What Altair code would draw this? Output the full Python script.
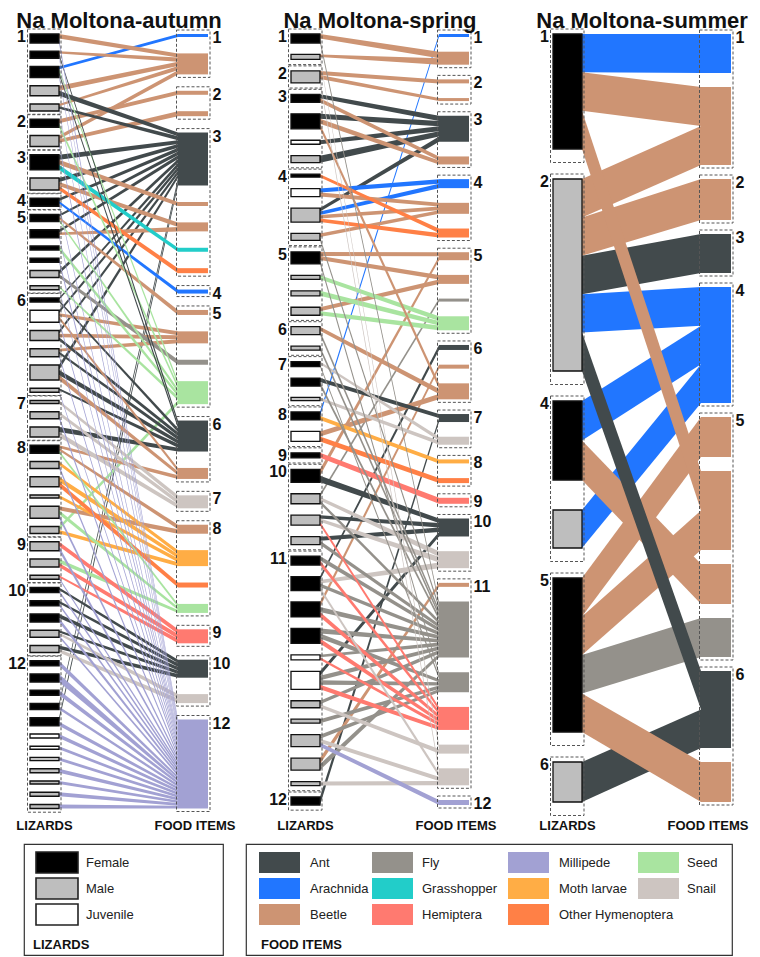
import altair as alt
import pandas as pd

# ---------------- categories & colours ----------------
FOOD_TYPES = ["Ant", "Arachnida", "Beetle", "Fly", "Grasshopper", "Hemiptera",
              "Millipede", "Moth larvae", "Other Hymenoptera", "Seed", "Snail"]
FOOD_COLORS = ["#424a4c", "#2176ff", "#cd9473", "#94918b", "#22cdc9", "#ff7a70",
               "#a2a1d3", "#ffad45", "#ff8046", "#a9e4a0", "#cdc5c1"]
SEXES = ["Female", "Male", "Juvenile"]
SEX_COLORS = ["#000000", "#bebebe", "#ffffff"]
SEX_NAME = {"F": "Female", "M": "Male", "J": "Juvenile"}

# ---------------- Na Moltona - autumn ----------------
aut_liz_module = [1, 1, 1, 1, 1, 2, 2, 3, 3, 4, 5, 5, 5, 5, 5, 5, 6, 6, 6, 6, 6, 6,
                  7, 7, 7, 8, 8, 8, 8, 8, 8, 9, 9, 9, 10, 10, 10, 10, 10,
                  12, 12, 12, 12, 12, 12, 12, 12, 12, 12, 12, 12]
aut_liz_sex = ("F F F M M F M F M F F F F F M M F J M M M M M M M F M M M M M "
               "M M M F F F M M F F F F F J J J M M M M").split()
aut_liz_size = [9, 7, 11, 10, 7, 8, 11, 15, 12, 8, 7, 8, 4, 4, 7, 4, 4, 12, 10, 8, 15, 4,
                3, 7, 10, 8, 7, 10, 3, 12, 7, 9, 8, 4, 5, 5, 8, 7, 7,
                5, 8, 5, 6, 8, 4, 3, 3, 4, 3, 4, 4]
aut_food_module = [1, 1, 2, 2, 3, 3, 3, 3, 3, 4, 5, 5, 5, 5, 6, 6, 7, 8, 8, 8, 8, 9, 10, 10, 12]
aut_food_type = ["Arachnida", "Beetle", "Beetle", "Beetle", "Ant", "Beetle", "Beetle",
                 "Grasshopper", "Other Hymenoptera", "Arachnida", "Beetle", "Beetle", "Fly",
                 "Seed", "Ant", "Beetle", "Snail", "Beetle", "Moth larvae",
                 "Other Hymenoptera", "Seed", "Hemiptera", "Ant", "Snail", "Millipede"]
aut_food_size = [3, 21, 4, 5, 53, 4, 9, 4, 5, 4, 5, 12, 5, 23, 31, 11, 13, 9, 16, 5, 9,
                 14, 18, 9, 89]
aut_diet = [[2, 25], [2, 15, 25], [1, 14, 15, 25], [2, 5], [2, 5, 25], [3, 14], [2, 4, 25],
            [5, 6, 8], [5, 7, 9], [5, 10, 25], [5, 11, 14], [5, 7, 25], [14], [25], [5, 13],
            [14, 25], [5, 15], [5, 12, 16, 25], [5, 12, 15], [12, 15, 25], [5, 15, 16],
            [15, 25], [17], [17, 25], [15, 17], [16, 18, 21], [19, 25], [19, 20], [19],
            [18, 21, 25], [14, 19], [22, 25], [21, 22], [22, 25], [23, 25], [23, 25],
            [23, 25], [23, 24, 25], [23, 24], [25], [25], [25], [5, 25], [5, 25],
            [25], [25], [25], [25], [25], [25], [25]]

# ---------------- Na Moltona - spring ----------------
spr_liz_module = [1, 1, 2, 3, 3, 3, 3, 4, 4, 4, 4, 5, 5, 5, 5, 6, 6, 7, 7, 7, 8, 8, 9,
                  10, 10, 10, 10, 11, 11, 11, 11, 11, 11, 11, 11, 11, 11, 11, 12]
spr_liz_sex = ("F M M F F J M F J M M F M M M M M F F J F J F F M M M "
               "F F F F J J M M M M M F").split()
spr_liz_size = [9, 5, 12, 8, 15, 4, 7, 3, 8, 14, 7, 12, 4, 5, 8, 8, 4, 5, 8, 3, 8, 10, 5,
                13, 10, 10, 8, 9, 14, 15, 15, 5, 18, 7, 4, 12, 12, 4, 8]
spr_food_module = [1, 1, 2, 2, 3, 3, 4, 4, 4, 5, 5, 5, 5, 6, 6, 6, 7, 7, 8, 8, 9, 10, 10,
                   11, 11, 11, 11, 11, 11, 12]
spr_food_type = ["Arachnida", "Beetle", "Beetle", "Beetle", "Ant", "Beetle", "Arachnida",
                 "Beetle", "Other Hymenoptera", "Beetle", "Beetle", "Fly", "Seed", "Ant",
                 "Beetle", "Beetle", "Ant", "Snail", "Moth larvae", "Other Hymenoptera",
                 "Hemiptera", "Ant", "Snail", "Beetle", "Fly", "Fly", "Hemiptera", "Snail",
                 "Snail", "Millipede"]
spr_food_size = [3, 13, 4, 3, 26, 8, 9, 11, 9, 8, 9, 3, 14, 5, 4, 16, 8, 8, 4, 5, 6, 18, 17,
                 4, 56, 20, 23, 9, 17, 5]
spr_diet = [[2, 25], [2, 28], [3, 4, 29], [5, 6], [5, 6, 16], [5], [5], [9], [7, 8],
            [5, 7, 8, 9], [8, 25], [10, 11, 26], [13], [13], [11, 13], [16, 25], [25],
            [18, 26], [17, 25], [18], [1, 19], [16, 20], [21], [10, 22], [12, 23, 25],
            [22, 23, 27], [22, 25], [25, 27], [14, 23, 25, 29], [15, 25, 27], [25, 26, 27],
            [25, 27], [22, 25, 26, 27], [25, 28], [26], [26, 29, 30], [24, 25], [29], [17]]

# ---------------- Na Moltona - summer ----------------
sum_liz_module = [1, 2, 4, 4, 5, 6]
sum_liz_sex = ["F", "M", "F", "M", "F", "M"]
sum_liz_size = [115, 192, 79, 38, 154, 40]
sum_food_module = [1, 1, 2, 3, 4, 5, 5, 5, 5, 6, 6]
sum_food_type = ["Arachnida", "Beetle", "Beetle", "Ant", "Arachnida", "Beetle", "Beetle",
                 "Beetle", "Fly", "Ant", "Beetle"]
sum_food_size = [39, 78, 41, 39, 116, 40, 79, 40, 39, 77, 40]
sum_diet = [[1, 2, 7], [2, 3, 4, 5, 10], [5, 8], [5], [6, 7, 9, 11], [10]]

# ---------------- layout constants ----------------
H = 827
TOP = 26
LX0, LX1 = 16, 45
FX0, FX1 = 164, 194
FONT = "'Liberation Sans', Arial, Helvetica, sans-serif"

FILL = alt.Scale(domain=FOOD_TYPES + SEXES, range=FOOD_COLORS + SEX_COLORS)


def stack(sizes, top, end):
    gap = (end - top - sum(sizes)) / (len(sizes) - 1)
    out, y = [], top
    for s in sizes:
        out.append(y)
        y += s + gap
    return out, gap


def module_boxes(mods, starts, sizes, x0, x1, pt, pb):
    rows = []
    for m in sorted(set(mods), key=mods.index):
        idx = [i for i, v in enumerate(mods) if v == m]
        rows.append(dict(module=str(m), x=x0, x2=x1,
                         y=starts[idx[0]] - pt,
                         y2=starts[idx[-1]] + sizes[idx[-1]] + pb))
    return pd.DataFrame(rows)


def build_panel(title, liz_mod, liz_sex, liz_size, food_mod, food_type, food_size,
                diet, y_end, width, food_label_x):
    ly, lgap = stack(liz_size, TOP, y_end)
    fy, fgap = stack(food_size, TOP, y_end)
    links = [(i, j - 1) for i, foods in enumerate(diet) for j in foods]

    lseg, fseg = {}, {}
    for i in range(len(liz_size)):
        fl = sorted([j for a, j in links if a == i], key=lambda j: fy[j])
        sh = liz_size[i] / len(fl)
        for k, j in enumerate(fl):
            lseg[(i, j)] = (ly[i] + k * sh, ly[i] + (k + 1) * sh)
    for j in range(len(food_size)):
        ll = sorted([a for a, b in links if b == j], key=lambda a: ly[a])
        sh = food_size[j] / len(ll)
        for k, i in enumerate(ll):
            fseg[(i, j)] = (fy[j] + k * sh, fy[j] + (k + 1) * sh)

    rows = []
    order = sorted(range(len(links)), key=lambda n: (-links[n][0], n))
    for rank, n in enumerate(order):
        i, j = links[n]
        rows.append(dict(link=f"{rank:04d}", x=LX1, y=lseg[(i, j)][0], y2=lseg[(i, j)][1],
                         cat=food_type[j]))
        rows.append(dict(link=f"{rank:04d}", x=FX0, y=fseg[(i, j)][0], y2=fseg[(i, j)][1],
                         cat=food_type[j]))
    link_df = pd.DataFrame(rows)

    liz_df = pd.DataFrame(dict(x=LX0, x2=LX1, y=ly,
                               y2=[a + b for a, b in zip(ly, liz_size)],
                               cat=[SEX_NAME[s] for s in liz_sex]))
    food_df = pd.DataFrame(dict(x=FX0, x2=FX1, y=fy,
                                y2=[a + b for a, b in zip(fy, food_size)],
                                cat=food_type))
    lbox = module_boxes(liz_mod, ly, liz_size, LX0 - 2.5, LX1 + 2, 5, max(3.5, lgap * 0.45))
    fbox = module_boxes(food_mod, fy, food_size, FX0 - 1.5, FX1 + 2, 4, 3)
    lab_l = pd.DataFrame(dict(x=lbox.x - 1.5, y=lbox.y + 8, t=lbox.module))
    lab_f = pd.DataFrame(dict(x=fbox.x2 + 2.5, y=fbox.y + 8, t=fbox.module))
    ttl = pd.DataFrame(dict(x=[(LX0 + FX1) / 2], y=[3], t=[title]))
    bottom = pd.DataFrame(dict(x=[(LX0 + LX1) / 2, food_label_x], y=[818, 818],
                               t=["LIZARDS", "FOOD ITEMS"]))

    X = alt.X("x:Q", scale=alt.Scale(domain=[0, width]), axis=None)
    Y = alt.Y("y:Q", scale=alt.Scale(domain=[0, H], reverse=True), axis=None)
    F = alt.Fill("cat:N", scale=FILL, legend=None)

    layers = [
        alt.Chart(link_df).mark_area(opacity=1, interpolate="linear").encode(
            x=X, y=Y, y2="y2:Q", fill=F, detail="link:N"),
        alt.Chart(food_df).mark_rect(strokeWidth=0).encode(
            x=X, x2="x2:Q", y=Y, y2="y2:Q", fill=F),
        alt.Chart(liz_df).mark_rect(stroke="#111111", strokeWidth=1.3).encode(
            x=X, x2="x2:Q", y=Y, y2="y2:Q", fill=F),
        alt.Chart(lbox).mark_rect(fillOpacity=0, stroke="#555555", strokeWidth=1,
                                  strokeDash=[3, 2]).encode(x=X, x2="x2:Q", y=Y, y2="y2:Q"),
        alt.Chart(fbox).mark_rect(fillOpacity=0, stroke="#555555", strokeWidth=1,
                                  strokeDash=[3, 2]).encode(x=X, x2="x2:Q", y=Y, y2="y2:Q"),
        alt.Chart(lab_l).mark_text(align="right", baseline="middle", font=FONT, fontSize=16,
                                   fontWeight="bold", color="#111111").encode(
            x=X, y=Y, text="t:N"),
        alt.Chart(lab_f).mark_text(align="left", baseline="middle", font=FONT, fontSize=16,
                                   fontWeight="bold", color="#111111").encode(
            x=X, y=Y, text="t:N"),
        alt.Chart(ttl).mark_text(align="center", baseline="top", font=FONT,
                                 fontSize=22, fontWeight="bold", color="#111111").encode(
            x=X, y=Y, text="t:N"),
        alt.Chart(bottom).mark_text(align="center", baseline="middle", font=FONT,
                                    fontSize=13, fontWeight="bold", color="#111111").encode(
            x=X, y=Y, text="t:N"),
    ]
    return alt.layer(*layers).properties(width=width, height=H)


p_aut = build_panel("Na Moltona-autumn", aut_liz_module, aut_liz_sex, aut_liz_size,
                    aut_food_module, aut_food_type, aut_food_size, aut_diet, 800.5, 261, 181)
p_spr = build_panel("Na Moltona-spring", spr_liz_module, spr_liz_sex, spr_liz_size,
                    spr_food_module, spr_food_type, spr_food_size, spr_diet, 797, 262, 181)
p_sum = build_panel("Na Moltona-summer", sum_liz_module, sum_liz_sex, sum_liz_size,
                    sum_food_module, sum_food_type, sum_food_size, sum_diet, 794, 212, 171)

panels = alt.hconcat(p_aut, p_spr, p_sum, spacing=0, bounds="flush").resolve_scale(
    x="independent", y="independent")

# ---------------- legends ----------------
LEG_H = 111
ROW_Y0, ROW_PITCH, SW_H = 8, 26, 21


def build_legend(labels, title, width, sw_x, lab_x, sw_w, title_x, stroke):
    rows = []
    for k, lab in enumerate(labels):
        col, row = k // 3, k % 3
        y0 = ROW_Y0 + row * ROW_PITCH
        rows.append(dict(cat=lab, x=sw_x[col], x2=sw_x[col] + sw_w, y=y0, y2=y0 + SW_H,
                         tx=lab_x[col], ty=y0 + SW_H / 2))
    df = pd.DataFrame(rows)
    tdf = pd.DataFrame(dict(x=[title_x], y=[101], t=[title]))
    X = alt.X("x:Q", scale=alt.Scale(domain=[0, width]), axis=None)
    Y = alt.Y("y:Q", scale=alt.Scale(domain=[0, LEG_H], reverse=True), axis=None)
    sw = alt.Chart(df).mark_rect(stroke="#222222" if stroke else "#ffffff",
                                 strokeWidth=1.6 if stroke else 0).encode(
        x=X, x2="x2:Q", y=Y, y2="y2:Q", fill=alt.Fill("cat:N", scale=FILL, legend=None))
    tx = alt.Chart(df).mark_text(align="left", baseline="middle", font=FONT, fontSize=13,
                                 color="#222222").encode(
        x=alt.X("tx:Q", scale=alt.Scale(domain=[0, width]), axis=None),
        y=alt.Y("ty:Q", scale=alt.Scale(domain=[0, LEG_H], reverse=True), axis=None),
        text="cat:N")
    tt = alt.Chart(tdf).mark_text(align="left", baseline="middle", font=FONT, fontSize=13,
                                  fontWeight="bold", color="#111111").encode(
        x=X, y=Y, text="t:N")
    return alt.layer(sw, tx, tt).properties(
        width=width, height=LEG_H,
        view=alt.ViewBackground(stroke="#333333", strokeWidth=1.2))


def spacer(w):
    return alt.Chart(pd.DataFrame({"v": [0]})).mark_point(opacity=0, size=0).encode(
        x=alt.X("v:Q", axis=None, scale=alt.Scale(domain=[-1, 1])),
        y=alt.Y("v:Q", axis=None, scale=alt.Scale(domain=[-1, 1]))).properties(
        width=w, height=LEG_H)


leg_liz = build_legend(SEXES, "LIZARDS", 199, [12], [62], 42, 9, True)
leg_food = build_legend(FOOD_TYPES, "FOOD ITEMS", 486, [13, 126, 262, 392],
                        [64, 176, 313, 441], 41, 15, False)

legends = alt.hconcat(spacer(10), leg_liz, spacer(23), leg_food, spacing=0,
                      bounds="flush").resolve_scale(x="independent", y="independent")

chart = alt.vconcat(panels, legends, spacing=8).resolve_scale(
    x="independent", y="independent").properties(
    padding={"left": 0, "top": 0, "right": 0, "bottom": 0}).configure_view(stroke=None)

chart.save("out.html", embed_options={"renderer": "svg", "actions": False})
